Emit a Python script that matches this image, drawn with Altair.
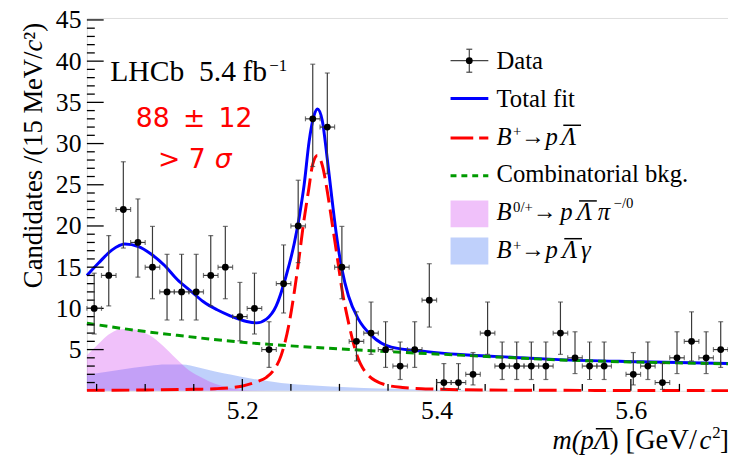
import altair as alt
import pandas as pd

# ---------------- data ----------------
bin_centers = [5.0475, 5.0625, 5.0775, 5.0925, 5.1075, 5.1225, 5.1375, 5.1525, 5.1675, 5.1825,
               5.1975, 5.2125, 5.2275, 5.2425, 5.2575, 5.2725, 5.2875, 5.3025, 5.3175, 5.3325,
               5.3475, 5.3625, 5.3775, 5.3925, 5.4075, 5.4225, 5.4375, 5.4525, 5.4675, 5.4825,
               5.4975, 5.5125, 5.5275, 5.5425, 5.5575, 5.5725, 5.5875, 5.6025, 5.6175, 5.6325,
               5.6475, 5.6625, 5.6775, 5.6925]
counts = [10, 14, 22, 18, 15, 12, 12, 12, 14, 15, 9, 10, 5, 13, 20, 33, 32, 15, 6, 7,
          5, 3, 5, 11, 1, 1, 2, 7, 3, 3, 3, 3, 7, 4, 3, 3, 0, 2, 3, 1, 4, 6, 4, 5]
err_lo = [6.89, 10.30, 17.32, 13.79, 11.17, 8.59, 8.59, 8.59, 10.30, 11.17, 6.06, 6.89, 2.84, 9.44,
          15.55, 27.22, 26.33, 11.17, 3.62, 4.42, 2.84, 1.37, 2.84, 7.73, 0.17, 0.17, 0.71, 4.42,
          1.37, 1.37, 1.37, 1.37, 4.42, 2.09, 1.37, 1.37, 0.0, 0.71, 1.37, 0.17, 2.09, 3.62, 2.09, 2.84]
err_hi = [14.27, 18.83, 27.79, 23.28, 19.95, 16.56, 16.56, 16.56, 18.83, 19.95, 13.15, 14.27, 8.38,
          17.70, 25.55, 39.63, 38.56, 19.95, 9.58, 10.77, 8.38, 5.92, 8.38, 15.42, 3.30, 3.30, 4.64,
          10.77, 5.92, 5.92, 5.92, 5.92, 10.77, 7.16, 5.92, 5.92, 1.84, 4.64, 5.92, 3.30, 7.16, 9.58,
          7.16, 8.38]
half_bin = 0.0075

total_m = [5.040, 5.052, 5.066, 5.079, 5.093, 5.106, 5.120, 5.133, 5.147, 5.160, 5.174, 5.1875,
           5.2045, 5.2146, 5.2248, 5.2349, 5.245, 5.2535, 5.2586, 5.2637, 5.2687, 5.2738, 5.2773,
           5.2823, 5.2874, 5.2925, 5.2976, 5.3026, 5.3093, 5.3195, 5.3331, 5.3534, 5.390, 5.4245,
           5.480, 5.526, 5.610, 5.700]
total_v = [14.0, 15.5, 17.1, 17.8, 17.5, 16.6, 15.2, 13.5, 12.1, 10.8, 9.83, 9.1,
           8.4, 8.24, 8.7, 10.3, 13.9, 17.9, 21.1, 25.05, 30.2, 33.4, 34.2,
           32.8, 28.2, 23.06, 18.3, 14.7, 11.5, 8.7, 6.7, 5.3, 4.75, 4.4,
           4.05, 3.78, 3.52, 3.3]

sig_m = [5.040, 5.100, 5.150, 5.172, 5.1994, 5.215, 5.2245, 5.2316, 5.240, 5.2484, 5.2539, 5.2586,
         5.263, 5.2681, 5.2725, 5.2773, 5.2825, 5.2874, 5.2925, 5.2976, 5.3026, 5.3093, 5.3179,
         5.3263, 5.3466, 5.3649, 5.400, 5.450, 5.550, 5.700]
sig_v = [0.05, 0.10, 0.18, 0.25, 0.56, 1.1, 1.6, 2.4, 4.3, 8.3, 12.3, 16.3,
         20.3, 24.25, 27.5, 28.55, 27.3, 24.25, 20.3, 16.3, 12.3, 8.3, 4.34,
         2.35, 0.75, 0.40, 0.20, 0.10, 0.05, 0.02]

comb_m = [5.040, 5.083, 5.133, 5.195, 5.250, 5.313, 5.367, 5.420, 5.480, 5.526, 5.600, 5.700]
comb_v = [8.2, 7.45, 6.73, 5.94, 5.45, 5.0, 4.65, 4.35, 4.0, 3.75, 3.5, 3.28]

pi_m = [5.040, 5.052, 5.062, 5.074, 5.085, 5.095, 5.105, 5.118, 5.132, 5.145, 5.159, 5.172,
        5.186, 5.196, 5.210, 5.250]
pi_v = [4.3, 5.7, 6.8, 7.45, 7.5, 7.2, 6.7, 5.5, 3.9, 2.5, 1.55, 0.84,
        0.36, 0.15, 0.03, 0.0]

gam_m = [5.040, 5.071, 5.088, 5.105, 5.121, 5.138, 5.155, 5.172, 5.189, 5.206, 5.240, 5.274,
         5.308, 5.342, 5.372, 5.420, 5.480]
gam_v = [1.95, 2.5, 2.8, 3.05, 3.2, 3.2, 2.83, 2.35, 1.95, 1.55, 0.96, 0.64,
         0.44, 0.28, 0.2, 0.08, 0.0]

x_major = [5.2, 5.4, 5.6]
x_minor = [5.05, 5.1, 5.15, 5.25, 5.3, 5.35, 5.45, 5.5, 5.55, 5.65]
y_major = [5, 10, 15, 20, 25, 30, 35, 40, 45]
y_minor = [v for v in range(1, 45) if v % 5 != 0]

# ---------------- scales / styles ----------------
W, H = 650, 378
SERIF = "Liberation Serif"
xs = alt.Scale(domain=[5.04, 5.70], nice=False, zero=False)
ys = alt.Scale(domain=[0, 45.24], nice=False, zero=False)
x_axis = alt.Axis(values=x_major, format=".1f", title=None, ticks=False, domain=False, grid=False,
                  labelFont=SERIF, labelFontSize=26, labelColor="black", labelPadding=7,
                  labelFlush=False)
y_axis = alt.Axis(values=y_major, format="d", title=None, ticks=False, domain=False, grid=False,
                  labelFont=SERIF, labelFontSize=26, labelColor="black", labelPadding=6,
                  labelFlush=False)


def X(f):
    return alt.X(f, type="quantitative", scale=xs, axis=x_axis)


def Y(f):
    return alt.Y(f, type="quantitative", scale=ys, axis=y_axis)


PINK, PINK_OP = "#cc33ee", 0.3
BLUEF, BLUE_OP = "#0044ee", 0.25
GREEN = "#009a00"

pts = pd.DataFrame({"m": bin_centers, "n": counts, "lo": err_lo, "hi": err_hi})
pts = pts[pts["n"] > 0]
pts["xl"] = pts["m"] - half_bin
pts["xh"] = pts["m"] + half_bin

one = pd.DataFrame({"k": [0]})

layers = []

# background components
layers.append(alt.Chart(pd.DataFrame({"m": gam_m, "v": gam_v})).mark_area(
    color=BLUEF, opacity=BLUE_OP, interpolate="monotone").encode(x=X("m"), y=Y("v")))
layers.append(alt.Chart(pd.DataFrame({"m": pi_m, "v": pi_v})).mark_area(
    color=PINK, opacity=PINK_OP, interpolate="monotone").encode(x=X("m"), y=Y("v")))

# fit curves
layers.append(alt.Chart(pd.DataFrame({"m": total_m, "v": total_v})).mark_line(
    color="#0000ff", strokeWidth=3, interpolate="monotone").encode(x=X("m"), y=Y("v")))
layers.append(alt.Chart(pd.DataFrame({"m": sig_m, "v": sig_v})).mark_line(
    color="#ff0000", strokeWidth=3, strokeDash=[18, 7], interpolate="monotone").encode(x=X("m"), y=Y("v")))
layers.append(alt.Chart(pd.DataFrame({"m": comb_m, "v": comb_v})).mark_line(
    color=GREEN, strokeWidth=3, strokeDash=[8, 5], interpolate="monotone").encode(x=X("m"), y=Y("v")))

# inward ticks
layers.append(alt.Chart(pd.DataFrame({"v": y_major})).mark_rule(color="black", strokeWidth=1.3).encode(
    y=Y("v"), x=alt.value(0), x2=alt.value(17)))
layers.append(alt.Chart(pd.DataFrame({"v": y_minor})).mark_rule(color="black", strokeWidth=1.3).encode(
    y=Y("v"), x=alt.value(0), x2=alt.value(8)))
layers.append(alt.Chart(pd.DataFrame({"m": x_major})).mark_rule(color="black", strokeWidth=1.3).encode(
    x=X("m"), y=alt.value(H), y2=alt.value(H - 12)))
layers.append(alt.Chart(pd.DataFrame({"m": x_minor})).mark_rule(color="black", strokeWidth=1.3).encode(
    x=X("m"), y=alt.value(H), y2=alt.value(H - 7)))

# data points with error bars
EB = "#3a3a3a"
base = alt.Chart(pts)
layers.append(base.mark_rule(color=EB, strokeWidth=1.2).encode(x=X("m"), y=Y("lo"), y2="hi"))
layers.append(base.mark_rule(color=EB, strokeWidth=1.2).encode(x=X("xl"), x2="xh", y=Y("n")))
layers.append(base.mark_tick(color=EB, orient="horizontal", size=5, thickness=1.2).encode(x=X("m"), y=Y("lo")))
layers.append(base.mark_tick(color=EB, orient="horizontal", size=5, thickness=1.2).encode(x=X("m"), y=Y("hi")))
layers.append(base.mark_tick(color=EB, orient="vertical", size=5, thickness=1.2).encode(x=X("xl"), y=Y("n")))
layers.append(base.mark_tick(color=EB, orient="vertical", size=5, thickness=1.2).encode(x=X("xh"), y=Y("n")))
layers.append(base.mark_point(filled=True, shape="circle", size=48, color="black", opacity=1).encode(
    x=X("m"), y=Y("n")))


def rule(x1, y1, x2, y2, color="black", width=1.2, dash=None):
    kw = dict(color=color, strokeWidth=width)
    if dash:
        kw["strokeDash"] = dash
    return alt.Chart(one).mark_rule(**kw).encode(
        x=alt.value(x1), x2=alt.value(x2), y=alt.value(y1), y2=alt.value(y2))


def box(x1, y1, x2, y2, color, op):
    return alt.Chart(one).mark_rect(color=color, opacity=op).encode(
        x=alt.value(x1), x2=alt.value(x2), y=alt.value(y1), y2=alt.value(y2))


def txt(s, x, y, size=25, font=SERIF, style="normal", color="black", align="left", angle=None):
    kw = dict(text=s, font=font, fontSize=size, fontStyle=style, color=color, align=align,
              baseline="alphabetic")
    if angle is not None:
        kw["angle"] = angle
    return alt.Chart(one).mark_text(**kw).encode(x=alt.value(x), y=alt.value(y))


def decay(y, sup, arrow_x, p_x, lam_x, tail=None, tail_x=None, sup2=None, sup2_x=None):
    """legend label: B^{sup} -> p Lambdabar [tail]^{sup2}, pieces placed at reference positions"""
    out = [
        txt("B", 415.3, y, style="italic"),
        txt(sup, 432, y - 8.5, size=15),
        txt("\u2192", arrow_x, y - 1, size=24),
        txt("p", p_x, y, style="italic"),
        txt("\u039b", lam_x, y, style="italic"),
        rule(lam_x + 2, y - 19.5, lam_x + 20, y - 19.5, color="black", width=1.5),
    ]
    if tail:
        out.append(txt(tail, tail_x, y, style="italic"))
    if sup2:
        out.append(txt(sup2, sup2_x, y - 12, size=15))
    return out


# legend
LX1, LX2, TX = 368.7, 407, 415.3
layers += [
    rule(LX1, 43.3, LX2, 43.3, color="#444444", width=1.2),
    rule(387.7, 31.7, 387.7, 55, color="#444444", width=1.2),
    rule(384.7, 31.7, 390.7, 31.7, color="#444444", width=1.2),
    rule(384.7, 55, 390.7, 55, color="#444444", width=1.2),
    alt.Chart(one).mark_point(filled=True, shape="circle", size=48, color="black", opacity=1).encode(
        x=alt.value(387.7), y=alt.value(43.3)),
    txt("Data", TX, 51.7),
    rule(LX1, 81.7, LX2, 81.7, color="#0000ff", width=3),
    txt("Total fit", TX, 90),
    rule(LX1, 121.7, LX2, 121.7, color="#ff0000", width=3, dash=[23, 6]),
    rule(LX1, 160, LX2, 160, color=GREEN, width=3, dash=[6, 5]),
    txt("Combinatorial bkg.", TX, 166.7),
    box(LX1, 185, LX2, 212.3, PINK, PINK_OP),
    box(LX1, 222.7, LX2, 250, BLUEF, BLUE_OP),
]
layers += decay(128.3, "+", 440, 465, 481)
layers += decay(205, "0/+", 452, 480, 497, tail="\u03c0", tail_x=518, sup2="\u2212/0", sup2_x=534)
layers += decay(243.3, "+", 440, 465, 482, tail="\u03b3", tail_x=501)

# annotations
layers += [
    txt("LHCb", 23.7, 64, size=30),
    txt("5.4", 113.7, 64, size=30),
    txt("fb", 157.7, 64, size=30),
    txt("\u22121", 185, 53.5, size=17),
    txt("88\u2002\u00b1\u200212", 108.7, 111, size=27, font="DejaVu Sans", color="#ff0000", align="center"),
    txt("> 7", 72, 151.7, size=27, font="DejaVu Sans", color="#ff0000"),
    txt("\u03c3", 129.5, 151.7, size=27, font="DejaVu Sans", style="italic", color="#ff0000"),
]

# axis titles
layers += [
    txt("Candidates /(15 MeV/", -46, 34, size=27, align="right", angle=270),
    txt("c", -46, 22, size=27, style="italic", align="right", angle=270),
    txt("\u00b2)", -46, 5, size=27, align="right", angle=270),
    txt("m(p", 472, 436.7, size=27, style="italic"),
    txt("\u039b", 514, 436.7, size=27, style="italic"),
    rule(516, 416.5, 533, 416.5, color="black", width=1.5),
    txt(")", 530, 436.7, size=27),
    txt("[GeV/", 546, 436.7, size=29),
    txt("c", 621, 436.7, size=27, style="italic"),
    txt("2", 634, 425.7, size=17),
    txt("]", 642, 436.7, size=27),
]

chart = alt.layer(*layers).properties(
    width=W, height=H,
    autosize=alt.AutoSizeParams(type="none"),
    padding={"left": 80, "top": 7, "right": 0, "bottom": 62},
).configure_view(stroke="black", strokeWidth=1.5).configure(background="white")

chart.save("out.html", embed_options={"renderer": "svg", "actions": False})
